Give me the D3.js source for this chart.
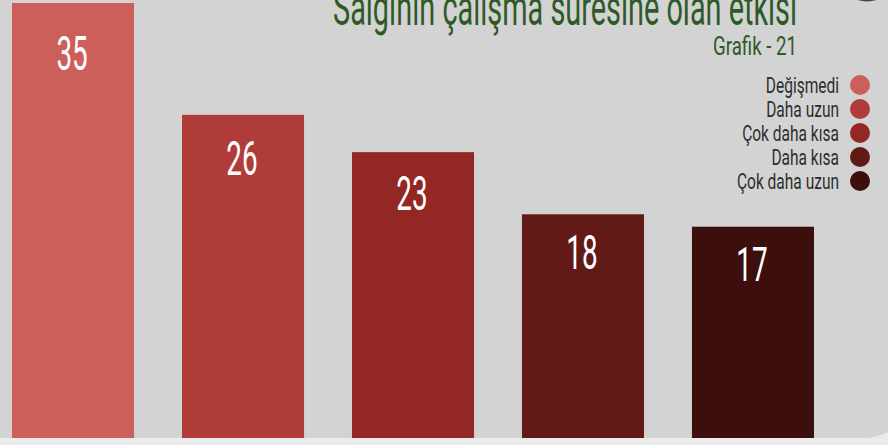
<!DOCTYPE html>
<html>
<head>
<meta charset="utf-8">
<script src="https://cdn.jsdelivr.net/npm/d3@7"></script>
<style>
    html, body { margin: 0; padding: 0; background: #ebebeb; overflow: hidden; }
    svg { display: block; font-family: Roboto, sans-serif; }
</style>
</head>
<body>
<svg id="chart"></svg>
<script>
const categories = ['Değişmedi', 'Daha uzun', 'Çok daha kısa', 'Daha kısa', 'Çok daha uzun'];
const values = [35, 26, 23, 18, 17];
const colors = ['#cd5f5a', '#b03c3a', '#932723', '#621a16', '#3c0f0d'];
const title = 'Salgının çalışma süresine olan etkisi';
const subtitle = 'Grafik - 21';

class BarChart {
    constructor(svg) {
        this.svg = svg
            .attr('width', this.width)
            .attr('height', this.height);

        this.x = d3.scaleBand()
            .domain(categories)
            .range([12, 814])
            .paddingInner(0.282)
            .paddingOuter(0);

        this.y = d3.scaleLinear()
            .domain([0, 35])
            .range([this.baseline, 3]);

        this.color = d3.scaleOrdinal()
            .domain(categories)
            .range(colors);
    }

    drawBackground() {
        this.svg.append('rect')
            .attr('x', -60)
            .attr('y', -60)
            .attr('width', 978)
            .attr('height', this.baseline + 60)
            .attr('rx', 55)
            .style('fill', '#d3d3d3');

        // green badge peeking in at the top right
        this.svg.append('circle')
            .attr('cx', 867)
            .attr('cy', -29)
            .attr('r', 30.5)
            .style('fill', '#2d5a27');
    }

    drawBars() {
        this.svg.selectAll('.bar')
            .data(values)
            .enter()
            .append('rect')
            .attr('class', 'bar')
            .attr('x', (d, i) => this.x(categories[i]))
            .attr('y', d => this.y(d))
            .attr('width', this.x.bandwidth())
            .attr('height', d => this.baseline - this.y(d))
            .style('fill', (d, i) => this.color(categories[i]));

        this.svg.selectAll('.value')
            .data(values)
            .enter()
            .append('text')
            .attr('class', 'value')
            .attr('transform', (d, i) => {
                const cx = this.x(categories[i]) + this.x.bandwidth() / 2 - 1;
                const cy = this.y(d) + 42 + d * 0.7;
                return `translate(${cx},${cy}) scale(0.58,1)`;
            })
            .attr('text-anchor', 'middle')
            .style('font-size', '48px')
            .style('fill', '#fff')
            .text(d => d);
    }

    drawTitle() {
        this.svg.append('text')
            .attr('x', 333)
            .attr('y', 25)
            .attr('textLength', 464)
            .attr('lengthAdjust', 'spacingAndGlyphs')
            .style('font-size', '50px')
            .style('fill', '#2d5a27')
            .text(title);

        this.svg.append('text')
            .attr('x', 713)
            .attr('y', 55)
            .attr('textLength', 84)
            .attr('lengthAdjust', 'spacingAndGlyphs')
            .style('font-size', '26px')
            .style('fill', '#2d5a27')
            .text(subtitle);
    }

    drawLegend() {
        const rows = this.svg.selectAll('.legend')
            .data(categories)
            .enter()
            .append('g')
            .attr('class', 'legend')
            .attr('transform', (d, i) => `translate(0,${85 + i * 24})`);

        rows.append('circle')
            .attr('cx', 860)
            .attr('r', 10)
            .style('fill', d => this.color(d));

        rows.append('text')
            .attr('transform', 'translate(839,8) scale(0.69,1)')
            .attr('text-anchor', 'end')
            .style('font-size', '22.5px')
            .style('fill', '#2e2e2e')
            .text(d => d);
    }

    get baseline() {
        return 438;
    }

    get width() {
        return 888;
    }

    get height() {
        return 445;
    }
}

const chart = new BarChart(d3.select('#chart'));
chart.drawBackground();
chart.drawBars();
chart.drawTitle();
chart.drawLegend();
</script>
</body>
</html>
